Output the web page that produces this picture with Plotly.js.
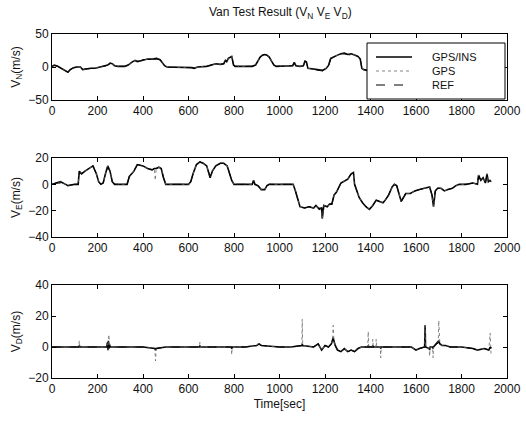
<!DOCTYPE html>
<html>
<head>
<meta charset="utf-8">
<script src="https://cdn.plot.ly/plotly-3.0.1.min.js"></script>
<style>html,body{margin:0;padding:0;background:#fff;}#chart{width:526px;height:421px;}</style>
</head>
<body>
<div id="chart"></div>
<script>
// ---- V_N (north velocity) ----
const tN = [0,10,25,40,55,70,80,95,110,125,135,150,170,190,210,230,245,255,265,275,290,320,335,350,365,375,385,400,420,440,460,475,485,495,505,560,600,615,625,640,680,700,720,740,755,762,768,775,782,790,798,805,830,880,895,905,915,925,935,945,955,965,975,985,1000,1050,1058,1065,1072,1090,1105,1112,1118,1125,1150,1170,1190,1205,1215,1225,1240,1255,1270,1285,1300,1315,1330,1345,1355,1362,1370,1385,1400,1450,1500,1550,1600,1650,1700,1750,1800,1850,1900,1930];
const vnIns = [1,3,1,-2,-5,-8,-4,-1,0,0,-4,-3,-2,-2,0,1,3,6,5,2,1,1,3,7,10,8,9,11,12,12,13,11,7,2,0,0,0,-1,-2,0,1,3,5,4,5,10,8,13,15,16,3,1,1,1,3,10,15,18,19,18,15,9,3,1,1,1,2,7,2,1,2,9,8,-2,-3,-4,-5,-2,2,13,16,18,20,21,19,20,18,16,12,-2,-4,-5,-3,2,6,3,-2,4,0,3,1,2,-1,0];
const vnGps = [1,3,1,-2,-5,-7,-4,-1,0,0,-4,-3,-2,-2,0,1,3,6,5,2,1,1,3,7,10,8,9,11,12,12,13,11,7,2,0,0,0,-1,-2,0,1,3,5,4,5,10,8,13,15,16,3,1,1,1,3,10,15,18,19,18,15,9,3,1,1,1,2,7,2,1,2,9,8,-2,-3,-4,-5,-2,2,13,16,18,20,21,19,20,18,16,12,-2,-4,-5,-3,2,6,3,-2,4,0,3,1,2,-1,0];
const vnRef = [1,2,1,-2,-5,-7,-4,-1,0,0,-3,-3,-2,-2,0,1,3,5,5,2,1,1,3,7,9,9,9,11,12,12,12,11,7,2,0,0,0,-1,-2,0,1,3,5,4,5,9,9,12,15,15,3,1,1,1,3,10,15,18,19,18,15,9,3,1,1,1,2,6,2,1,2,8,8,-2,-3,-5,-6,-4,0,12,16,18,20,20,19,19,18,16,12,-2,-4,-5,-3,2,6,3,-2,4,0,3,1,2,-1,0];

// ---- V_E (east velocity) ----
const tE = [0,20,37,60,70,100,115,120,130,145,160,180,195,205,215,225,235,245,255,265,275,330,340,360,375,400,420,440,450,454,458,470,480,490,500,600,610,620,635,650,665,680,690,695,705,720,740,755,770,780,790,800,880,886,892,905,920,935,945,955,1060,1070,1080,1090,1110,1130,1150,1160,1175,1185,1188,1191,1195,1210,1220,1230,1240,1250,1260,1270,1280,1290,1300,1315,1325,1330,1340,1350,1365,1380,1395,1410,1425,1440,1455,1465,1480,1495,1505,1515,1525,1535,1545,1555,1575,1595,1615,1635,1650,1660,1670,1677,1685,1695,1710,1725,1740,1760,1775,1790,1820,1850,1870,1875,1885,1895,1905,1912,1918,1925,1930];
const veIns = [0,1,2,0,-1,0,0,10,8,10,12,14,8,2,0,1,8,14,10,2,0,0,6,10,15,14,12,11,12,12,12,13,12,5,0,0,2,8,15,17,16,14,8,5,10,14,16,16,14,8,3,0,0,3,0,-1,-4,-4,-1,0,0,-5,-12,-17,-18,-17,-18,-16,-19,-18,-26,-18,-16,-17,-15,-15,-8,-6,-2,1,2,3,4,8,9,0,-5,-10,-14,-17,-19,-16,-12,-13,-14,-12,-8,-2,0,-1,-8,-13,-10,-7,-7,-5,-4,-3,-2,-2,-8,-17,-5,-3,-3,-5,-4,-3,-1,0,0,1,0,7,3,5,1,8,2,3,2];
const veGps = [0,1,2,0,-1,0,0,10,8,10,12,14,8,2,0,1,8,14,10,2,0,0,6,10,15,14,12,11,12,3,12,13,12,5,0,0,2,8,15,17,16,14,8,5,10,14,16,16,14,8,3,0,0,3,0,-1,-4,-4,-1,0,0,-5,-12,-17,-18,-17,-18,-16,-19,-18,-26,-18,-16,-17,-15,-15,-8,-6,-2,1,2,3,4,8,9,0,-5,-10,-14,-17,-19,-16,-12,-13,-14,-12,-8,-2,0,-1,-8,-13,-10,-7,-7,-5,-4,-3,-2,-2,-8,-17,-5,-3,-3,-5,-4,-3,-1,0,0,1,0,7,3,5,1,8,2,3,2];
const veRef = [0,1,1,0,-1,0,0,9,8,10,12,14,8,2,0,1,8,13,10,2,0,0,6,10,15,14,12,11,12,12,12,13,12,5,0,0,2,8,15,17,16,14,8,6,10,14,16,16,14,8,3,0,0,2,0,-1,-4,-4,-1,0,0,-5,-12,-17,-18,-17,-17,-16,-18,-18,-20,-18,-16,-17,-15,-15,-8,-6,-2,1,2,3,4,8,9,0,-5,-10,-14,-17,-19,-16,-12,-13,-14,-12,-8,-2,0,-1,-8,-13,-10,-7,-7,-5,-4,-3,-2,-2,-8,-12,-5,-3,-3,-5,-4,-3,-1,0,0,1,0,6,3,5,1,7,2,3,2];

// ---- V_D (down velocity) ----
const tD = [0,50,100,118,120,122,180,240,244,246,248,250,252,256,300,400,452,455,458,500,600,648,650,652,700,788,790,792,850,900,910,920,1000,1050,1098,1100,1102,1150,1170,1185,1200,1215,1228,1233,1236,1239,1245,1255,1270,1285,1300,1315,1330,1345,1360,1388,1390,1392,1408,1410,1412,1423,1425,1427,1443,1445,1447,1500,1580,1600,1615,1638,1640,1642,1658,1660,1662,1673,1675,1677,1690,1698,1700,1702,1705,1715,1730,1750,1800,1850,1870,1900,1920,1926,1928,1930];
const vdIns = [0,0,0,0,1,0,0,0,3,-2,4,-1,2,0,0,0,-1,-2,-1,0,0,0,1,0,0,0,-1,0,0,1,2,1,0,0,1,2,1,0,2,-2,1,0,2,4,6,4,1,-2,-3,-1,-3,-2,-3,-1,0,0,1,0,0,1,0,0,0,0,0,-1,0,0,0,-2,-1,0,14,0,-1,-2,0,0,-1,0,2,3,4,3,2,1,1,0,0,-1,-2,-1,-2,0,-1,0];
const vdGps = [0,0,0,0,4,0,0,0,3,-2,4,8,2,0,0,0,-1,-9,-1,0,0,0,3,0,0,0,-5,0,0,1,3,1,0,0,1,18,1,0,2,-2,1,0,2,4,14,4,1,-2,-3,-1,-3,-2,-3,-1,0,0,10,0,0,5,0,0,5,0,0,-7,0,0,0,-2,-1,0,14,0,-1,-6,0,0,-7,0,2,3,17,3,2,1,1,0,0,-1,-2,-1,-2,9,-1,-6];
const vdRef = [0,0,0,0,0,0,0,0,1,0,1,0,1,0,0,0,-1,-1,-1,0,0,0,0,0,0,0,-1,0,0,1,2,1,0,0,1,1,1,0,2,-1,1,0,2,3,4,3,1,-2,-3,-1,-3,-2,-3,-1,0,0,0,0,0,0,0,0,0,0,0,0,0,0,0,-2,-1,0,0,0,-1,-1,0,0,0,0,2,3,3,3,2,1,1,0,0,-1,-2,-1,-2,0,0,0];

const seriesNames = ['GPS/INS', 'GPS', 'REF'];

const styles = [
  {color:'#000000', width:1.6, dash:'solid'},
  {color:'#666666', width:0.8, dash:'dot'},
  {color:'#000000', width:1.0, dash:'dash'}
];

function mk(t, v, i, xa, ya) {
  return {x:t, y:v, type:'scatter', mode:'lines', name:seriesNames[i],
    line:styles[i], xaxis:xa, yaxis:ya, showlegend:false, hoverinfo:'skip'};
}

const data = [
  mk(tN, vnIns, 0, 'x', 'y'),
  mk(tN, vnGps, 1, 'x', 'y'),
  mk(tN, vnRef, 2, 'x', 'y'),
  mk(tE, veIns, 0, 'x2', 'y2'),
  mk(tE, veGps, 1, 'x2', 'y2'),
  mk(tE, veRef, 2, 'x2', 'y2'),
  mk(tD, vdIns, 0, 'x3', 'y3'),
  mk(tD, vdGps, 1, 'x3', 'y3'),
  mk(tD, vdRef, 2, 'x3', 'y3')
];

const W = 526, H = 421;
const xdom = [52/W, 507/W];
function ydom(top, bot) { return [1 - bot/H, 1 - top/H]; }
function px(x) { return x / W; }
function py(y) { return 1 - y / H; }

const fontFam = 'Liberation Sans, Arial, sans-serif';
function xax(anchor, title) {
  const a = {domain:xdom, range:[0,2000], tickmode:'linear', tick0:0, dtick:200,
    ticks:'inside', ticklen:4, tickcolor:'#000', mirror:'ticks', showline:true, linecolor:'#000', linewidth:1,
    showgrid:false, zeroline:false, anchor:anchor, tickfont:{size:12, color:'#111'}};
  if (title) a.title = {text:title, font:{size:12, color:'#111'}, standoff:4};
  return a;
}
function yax(anchor, dom, range, dt, title) {
  return {domain:dom, range:range, tickmode:'linear', tick0:0, dtick:dt,
    ticks:'inside', ticklen:4, tickcolor:'#000', mirror:'ticks', showline:true, linecolor:'#000', linewidth:1,
    showgrid:false, zeroline:false, anchor:anchor, tickfont:{size:12, color:'#111'},
    title:{text:title, font:{size:12, color:'#111'}, standoff:5}};
}

// legend box drawn in the upper subplot (MATLAB style)
const legBox = {x0:367, x1:505, y0:43, y1:99};
const legRows = [57, 71, 85];
const shapes = [{type:'rect', xref:'paper', yref:'paper', x0:px(legBox.x0), x1:px(legBox.x1),
  y0:py(legBox.y1), y1:py(legBox.y0), fillcolor:'#fff', line:{color:'#000', width:1}, layer:'above'}];
const annotations = [];
seriesNames.forEach((name, i) => {
  shapes.push({type:'line', xref:'paper', yref:'paper', x0:px(376), x1:px(412), y0:py(legRows[i]), y1:py(legRows[i]),
    line:{color:styles[i].color, width:styles[i].width, dash:styles[i].dash}, layer:'above'});
  annotations.push({xref:'paper', yref:'paper', x:px(430), y:py(legRows[i]), xanchor:'left', yanchor:'middle',
    text:name, showarrow:false, font:{size:11, color:'#111', family:fontFam}});
});

const layout = {
  width:W, height:H, margin:{l:0, r:0, t:0, b:0}, paper_bgcolor:'#fff', plot_bgcolor:'#fff',
  font:{family:fontFam, size:12, color:'#111'},
  title:{text:'Van Test Result (V<sub>N</sub> V<sub>E</sub> V<sub>D</sub>)', x:0.533, xanchor:'center',
    y:1 - 12/H, yanchor:'middle', font:{size:12, color:'#111'}},
  xaxis: xax('y'),
  yaxis: yax('x', ydom(34, 100), [-50, 50], 50, 'V<sub>N</sub>(m/s)'),
  xaxis2: xax('y2'),
  yaxis2: yax('x2', ydom(158, 237), [-40, 20], 20, 'V<sub>E</sub>(m/s)'),
  xaxis3: xax('y3', 'Time[sec]'),
  yaxis3: yax('x3', ydom(285, 378), [-20, 40], 20, 'V<sub>D</sub>(m/s)'),
  shapes: shapes,
  annotations: annotations,
  showlegend:false
};

Plotly.newPlot('chart', data, layout, {displayModeBar:false, staticPlot:true});
</script>
</body>
</html>
